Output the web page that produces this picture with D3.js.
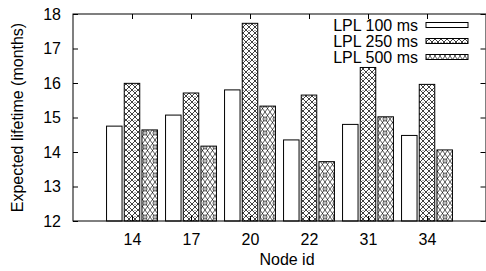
<!DOCTYPE html>
<html><head><meta charset="utf-8">
<script src="https://cdn.jsdelivr.net/npm/d3@7"></script>
<style>body{margin:0;background:#fff}svg{display:block}text{font-family:"Liberation Sans",Arial,sans-serif;fill:#000}</style>
</head><body><svg id="c" width="486" height="271"></svg>
<script>
const categories = ["14","17","20","22","31","34"];
const seriesNames = ["LPL 100 ms","LPL 250 ms","LPL 500 ms"];
const lpl100 = [14.75,15.07,15.80,14.35,14.80,14.48];
const lpl250 = [15.99,15.71,17.73,15.65,16.45,15.96];
const lpl500 = [14.64,14.17,15.33,13.72,15.02,14.06];
const yTicks = [12,13,14,15,16,17,18];

const series = [lpl100,lpl250,lpl500];
const svg = d3.select("#c");
const m={l:73,t:14,r:486,b:221};
const fs=16;
const ff="Liberation Sans, Arial, sans-serif";

const defs=svg.append("defs");
const p2=defs.append("pattern").attr("id","p2").attr("patternUnits","userSpaceOnUse").attr("width",6).attr("height",6);
p2.append("rect").attr("width",6).attr("height",6).attr("fill","#fff");
p2.append("path").attr("d","M0,0L6,6M6,0L0,6").attr("stroke","#000").attr("stroke-width",0.75);
p2.append("rect").attr("x",2.6).attr("y",0).attr("width",0.8).attr("height",0.8).attr("fill","#000");
const p3=defs.append("pattern").attr("id","p3").attr("patternUnits","userSpaceOnUse").attr("width",10).attr("height",14);
p3.append("rect").attr("width",10).attr("height",14).attr("fill","#fff");
p3.append("path").attr("d","M0,0L10,14M10,0L0,14M0,7L5,0M5,0L10,7M0,7L5,14M5,14L10,7").attr("stroke","#000").attr("stroke-width",0.65);
p3.append("circle").attr("cx",5).attr("cy",7).attr("r",2).attr("fill","#fff").attr("stroke","#000").attr("stroke-width",0.7);
p3.append("rect").attr("x",4.5).attr("y",6.5).attr("width",1).attr("height",1).attr("fill","#000");
const fills=["#fff","url(#p2)","url(#p3)"];

const x=d3.scaleLinear().domain([-1,categories.length]).range([m.l,m.r]);
const y=d3.scaleLinear().domain([12,18]).range([m.b,m.t]);
const bw=15.5, off=17.7;

const g=svg.append("g");
series.forEach((s,si)=>{
  g.selectAll(null).data(s).enter().append("rect")
   .attr("x",(d,i)=>x(i)+(si-1)*off-bw/2)
   .attr("y",d=>y(d))
   .attr("width",bw)
   .attr("height",d=>y(12)-y(d))
   .attr("fill",fills[si]).attr("stroke","#000").attr("stroke-width",1);
});

const ax=svg.append("g").attr("stroke","#000").attr("stroke-width",1).attr("fill","none");
ax.append("rect").attr("x",m.l).attr("y",m.t).attr("width",m.r-m.l).attr("height",m.b-m.t);

const yl=d3.axisLeft(y).tickValues(yTicks).tickSize(-5).tickPadding(12).tickFormat(d3.format("d"));
const ya=svg.append("g").attr("transform",`translate(${m.l},0)`).call(yl);
ya.select(".domain").remove();
ya.selectAll("text").attr("font-size",fs).attr("font-family",ff);
const yr=d3.axisRight(y).tickValues(yTicks).tickSize(-5).tickFormat("");
const yra=svg.append("g").attr("transform",`translate(${m.r-0.5},0)`).call(yr);
yra.select(".domain").remove();

const idx=categories.map((c,i)=>i);
const xb=d3.axisBottom(x).tickValues(idx).tickSize(-5).tickPadding(13).tickFormat(i=>categories[i]);
const xa=svg.append("g").attr("transform",`translate(0,${m.b})`).call(xb);
xa.select(".domain").remove();
xa.selectAll("text").attr("font-size",fs).attr("font-family",ff);
const xt=d3.axisTop(x).tickValues(idx).tickSize(-5).tickFormat("");
const xta=svg.append("g").attr("transform",`translate(0,${m.t})`).call(xt);
xta.select(".domain").remove();

const lg=svg.append("g");
seriesNames.forEach((n,i)=>{
  const cy=25+i*16;
  lg.append("text").attr("x",418).attr("y",cy).attr("dy","0.35em").attr("text-anchor","end").attr("font-size",fs).text(n);
  lg.append("rect").attr("x",426).attr("y",cy-2.5).attr("width",42).attr("height",5).attr("fill",fills[i]).attr("stroke","#000").attr("stroke-width",1);
});

svg.append("text").attr("x",287).attr("y",265).attr("text-anchor","middle").attr("font-size",fs).text("Node id");
svg.append("text").attr("transform",`translate(23,${(m.t+m.b)/2}) rotate(-90)`).attr("text-anchor","middle").attr("font-size",fs).text("Expected lifetime (months)");
</script></body></html>
